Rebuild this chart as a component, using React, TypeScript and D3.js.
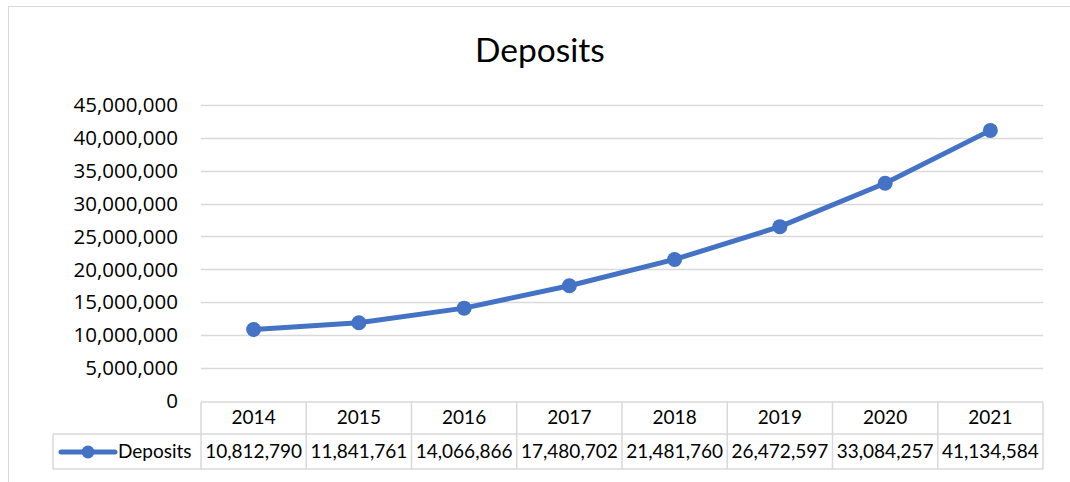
import { useEffect, useRef } from 'react'
import * as d3 from 'd3'

const years = ['2014', '2015', '2016', '2017', '2018', '2019', '2020', '2021']
const deposits = [10812790, 11841761, 14066866, 17480702, 21481760, 26472597, 33084257, 41134584]
const yTicks = [0, 5000000, 10000000, 15000000, 20000000, 25000000, 30000000, 35000000, 40000000, 45000000]
const seriesName = 'Deposits'

const W = 1070
const H = 482
const blue = '#4472C4'
const grid = '#d9d9d9'

const App = () => {
  const ref = useRef<SVGSVGElement>(null)

  useEffect(() => {
    if (!ref.current) return
    const svg = d3.select(ref.current)
    svg.selectAll('*').remove()

    const x = d3.scaleBand<string>().domain(years).range([201, 1043]).padding(0)
    const y = d3.scaleLinear().domain([0, 45000000]).range([400.5, 105])
    const fmt = d3.format(',')

    //chart border
    svg.append('rect')
      .attr('x', 8.5).attr('y', 6.5)
      .attr('width', W + 20).attr('height', H + 20)
      .attr('fill', 'white').attr('stroke', grid).attr('stroke-width', 1)

    //title
    svg.append('text')
      .attr('x', 540).attr('y', 62)
      .attr('text-anchor', 'middle')
      .attr('font-family', 'Lato, sans-serif')
      .attr('font-size', 33.5)
      .attr('fill', '#000')
      .text(seriesName)

    //gridlines
    svg.append('g')
      .selectAll('line')
      .data(yTicks.slice(1))
      .join('line')
        .attr('x1', 201).attr('x2', 1043)
        .attr('y1', d => Math.round(y(d)) + 0.5).attr('y2', d => Math.round(y(d)) + 0.5)
        .attr('stroke', grid).attr('stroke-width', 1.3)

    //y labels
    svg.append('g')
      .selectAll('text')
      .data(yTicks)
      .join('text')
        .attr('x', 178)
        .attr('y', d => y(d))
        .attr('dy', '0.36em')
        .attr('text-anchor', 'end')
        .attr('font-family', '"Open Sans", sans-serif')
        .attr('font-size', 20.5)
        .attr('fill', '#000')
        .text(d => fmt(d))

    //data table
    const tTop = 402, tMid = 434, tBot = 469, tLeft = 53
    const tg = svg.append('g').attr('stroke', grid).attr('stroke-width', 1.5)
    tg.append('line').attr('x1', 201).attr('x2', 1043).attr('y1', tTop).attr('y2', tTop)
    tg.append('line').attr('x1', tLeft).attr('x2', 1043).attr('y1', tMid).attr('y2', tMid)
    tg.append('line').attr('x1', tLeft).attr('x2', 1043).attr('y1', tBot).attr('y2', tBot)
    tg.append('line').attr('x1', tLeft).attr('x2', tLeft).attr('y1', tMid).attr('y2', tBot)
    tg.selectAll('line.v')
      .data(years)
      .join('line')
        .attr('class', 'v')
        .attr('x1', d => x(d)!).attr('x2', d => x(d)!)
        .attr('y1', tTop).attr('y2', tBot)
    tg.append('line').attr('x1', 1043).attr('x2', 1043).attr('y1', tTop).attr('y2', tBot)

    const cellText = svg.append('g')
      .attr('font-family', 'Lato, sans-serif')
      .attr('font-size', 19)
      .attr('fill', '#000')
      .attr('text-anchor', 'middle')
    cellText.selectAll('text.h')
      .data(years)
      .join('text')
        .attr('class', 'h')
        .attr('x', d => x(d)! + x.bandwidth() / 2)
        .attr('y', 424)
        .text(d => d)
    cellText.selectAll('text.v')
      .data(deposits)
      .join('text')
        .attr('class', 'v')
        .attr('x', (_, i) => x(years[i])! + x.bandwidth() / 2)
        .attr('y', 458)
        .text(d => fmt(d))

    //legend key in table
    svg.append('line')
      .attr('x1', 61).attr('x2', 115).attr('y1', 452).attr('y2', 452)
      .attr('stroke', blue).attr('stroke-width', 5).attr('stroke-linecap', 'round')
    svg.append('circle')
      .attr('cx', 88).attr('cy', 452).attr('r', 6.5).attr('fill', blue)
    svg.append('text')
      .attr('x', 118).attr('y', 458)
      .attr('font-family', 'Lato, sans-serif')
      .attr('font-size', 19)
      .attr('fill', '#000')
      .text(seriesName)

    //line
    const line = d3.line<number>()
      .x((_, i) => x(years[i])! + x.bandwidth() / 2)
      .y(d => y(d))
    svg.append('path')
      .datum(deposits)
      .attr('d', line)
      .attr('fill', 'none')
      .attr('stroke', blue)
      .attr('stroke-width', 5)
      .attr('stroke-linejoin', 'round')

    svg.append('g')
      .selectAll('circle')
      .data(deposits)
      .join('circle')
        .attr('cx', (_, i) => x(years[i])! + x.bandwidth() / 2)
        .attr('cy', d => y(d))
        .attr('r', 7.5)
        .attr('fill', blue)
  }, [])

  return (
    <svg
      ref={ref}
      width={W}
      height={H}
      style={{ position: 'fixed', left: 0, top: 0, display: 'block' }}
    />
  )
}

export default App
